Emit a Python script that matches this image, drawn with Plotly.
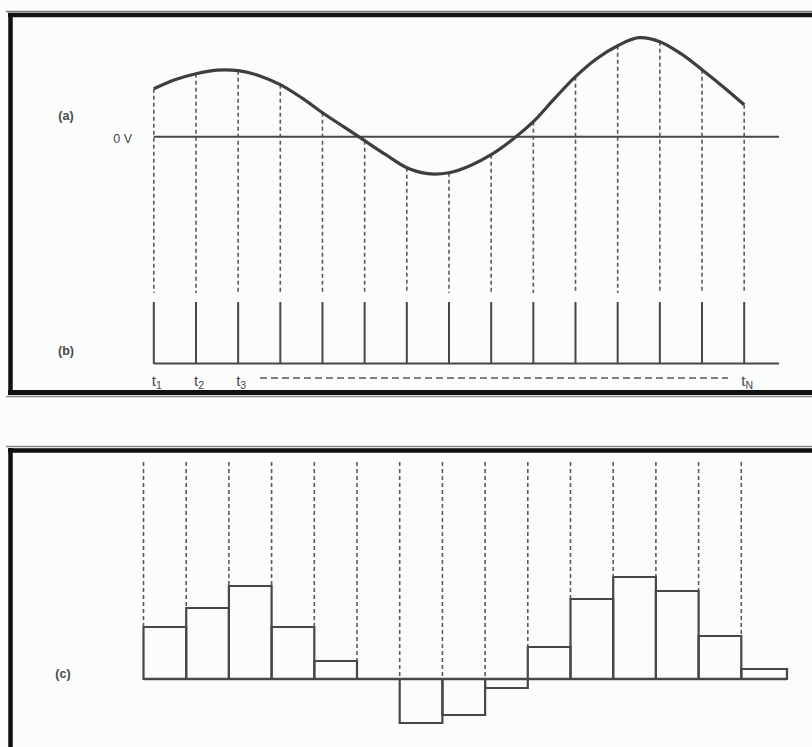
import plotly.graph_objects as go

# ---------------- data (arbitrary units, 1 unit ~ 1 px) ----------------
sample_idx = list(range(1, 16))
# continuous analogue signal (a): position in sample periods, amplitude above 0 V
curve_t = [1, 1.5, 2, 2.5, 3, 3.5, 4, 4.5, 5, 5.5, 6, 6.5, 7, 7.5, 8, 8.5, 9,
           9.5, 10, 10.5, 11, 11.5, 12, 12.5, 13, 13.5, 14, 14.5, 15]
curve_v = [48, 57, 63, 66.5, 66, 61, 52, 39, 24, 10, -4, -18, -31, -37, -36, -29, -18,
           -3, 15, 38, 60, 78, 91, 99, 95, 83, 67, 50, 32]
# sampled values at t1..tN (where the dashed lines leave the curve)
sample_v = [48, 63, 66, 52, 24, -4, -31, -36, -18, 15, 60, 91, 95, 67, 32]
# sample-and-hold staircase (c)
held_v = [52, 71, 93, 52, 18, 0, -44, -36, -9, 32, 80, 102, 88, 43, 10]
held_w = [1] * 14 + [1.07]
t_label_idx = [1, 2, 3, 15]
t_label_txt = ["t<sub>1</sub>", "t<sub>2</sub>", "t<sub>3</sub>", "t<sub>N</sub>"]
panel_labels = ["(a)", "(b)", "(c)"]
zero_label = "0 V"

# ---------------- layout geometry (pixels) ----------------
W, H = 812, 747
SPLIT = 420                      # pixel row separating the two panels
ZERO_A = 136.7                   # pixel row of 0 V in panel (a)
X1_A, DX_A = 153.8, 42.17        # pixel x of t1 and sample spacing, top panel
BASE_C = 679                     # pixel row of the baseline in panel (c)
X1_C, DX_C = 143.5, 42.7         # pixel x of first bar edge, bottom panel

def va(p):  # pixel row -> value in top axis
    return ZERO_A - p

def vc(p):  # pixel row -> value in bottom axis
    return BASE_C - p

def xa(px):  # pixel column -> top x value
    return 1 + (px - X1_A) / DX_A

def xc(px):  # pixel column -> bottom x value
    return 1 + (px - X1_C) / DX_C

INK = "#474747"
DASH = "4px,3px"

fig = go.Figure()

# ---- (a) zero line
fig.add_trace(go.Scatter(x=[1, xa(779)], y=[0, 0], mode="lines",
                         line=dict(color=INK, width=2), xaxis="x", yaxis="y", hoverinfo="skip"))
# ---- (a) dashed drop lines from the samples
dx, dy = [], []
for i, v in zip(sample_idx, sample_v):
    dx += [i, i, None]
    dy += [v, va(293), None]
fig.add_trace(go.Scatter(x=dx, y=dy, mode="lines",
                         line=dict(color="#5a5a5a", width=1.6, dash=DASH),
                         xaxis="x", yaxis="y", hoverinfo="skip"))
# ---- (a) analogue signal
fig.add_trace(go.Scatter(x=curve_t, y=curve_v, mode="lines",
                         line=dict(color="#3e3e3e", width=3.2, shape="spline", smoothing=1.0),
                         xaxis="x", yaxis="y", hoverinfo="skip"))
# ---- (b) sampling impulses
ix, iy = [], []
for i in sample_idx:
    ix += [i, i, None]
    iy += [va(302), va(364), None]
fig.add_trace(go.Scatter(x=ix, y=iy, mode="lines", line=dict(color=INK, width=2),
                         xaxis="x", yaxis="y", hoverinfo="skip"))
fig.add_trace(go.Scatter(x=[1, xa(779)], y=[va(363.5)] * 2, mode="lines",
                         line=dict(color=INK, width=2.2), xaxis="x", yaxis="y", hoverinfo="skip"))
# dashed "t3 ---- tN" line
fig.add_trace(go.Scatter(x=[xa(260), xa(728)], y=[va(378)] * 2,
                         mode="lines", line=dict(color="#555", width=1.4, dash="7px,4px"),
                         xaxis="x", yaxis="y", hoverinfo="skip"))

# ---- (c) dashed guide lines
cx, cy = [], []
for k, i in enumerate(sample_idx):
    prev = held_v[k - 1] if k > 0 else 0
    end = max(0, prev, held_v[k])
    cx += [i, i, None]
    cy += [vc(462), end, None]
fig.add_trace(go.Scatter(x=cx, y=cy, mode="lines",
                         line=dict(color="#5a5a5a", width=1.6, dash=DASH),
                         xaxis="x2", yaxis="y2", hoverinfo="skip"))
# ---- (c) held samples
fig.add_trace(go.Bar(x=sample_idx, y=held_v, width=held_w, offset=0,
                     marker=dict(color="rgba(0,0,0,0)", line=dict(color=INK, width=2.2)),
                     xaxis="x2", yaxis="y2", hoverinfo="skip"))
fig.add_trace(go.Scatter(x=[1, 16 + 0.07], y=[0, 0], mode="lines",
                         line=dict(color=INK, width=2.4), xaxis="x2", yaxis="y2", hoverinfo="skip"))

# ---------------- text (as text traces) ----------------
FONT = "Liberation Sans"
TXT = "#484848"
fig.add_trace(go.Scatter(x=[i + 3 / DX_A for i in t_label_idx], y=[va(382)] * 4,
                         mode="text", text=t_label_txt, textposition="middle center",
                         textfont=dict(family=FONT, size=15, color=TXT),
                         xaxis="x", yaxis="y", hoverinfo="skip"))
fig.add_trace(go.Scatter(x=[xa(66), xa(66)], y=[va(116.5), va(352)], mode="text",
                         text=["<b>" + s + "</b>" for s in panel_labels[:2]],
                         textposition="middle center",
                         textfont=dict(family=FONT, size=12.5, color=TXT),
                         xaxis="x", yaxis="y", hoverinfo="skip"))
fig.add_trace(go.Scatter(x=[xa(132)], y=[va(139.5)], mode="text", text=[zero_label],
                         textposition="middle left",
                         textfont=dict(family=FONT, size=12.5, color=TXT),
                         xaxis="x", yaxis="y", hoverinfo="skip"))
fig.add_trace(go.Scatter(x=[xc(63)], y=[vc(674.5)], mode="text",
                         text=["<b>" + panel_labels[2] + "</b>"], textposition="middle center",
                         textfont=dict(family=FONT, size=12.5, color=TXT),
                         xaxis="x2", yaxis="y2", hoverinfo="skip"))

# ---------------- frames ----------------
def hline(y, x0, x1, w, c):
    return dict(type="line", xref="paper", yref="paper", x0=x0 / W, x1=x1 / W,
                y0=1 - y / H, y1=1 - y / H, line=dict(color=c, width=w))

def vline(x, y0, y1, w, c):
    return dict(type="line", xref="paper", yref="paper", x0=x / W, x1=x / W,
                y0=1 - y0 / H, y1=1 - y1 / H, line=dict(color=c, width=w))

shapes = [
    hline(11.5, 6, 830, 1.5, "#777"),
    hline(15, 8, 830, 4.5, "#111"),
    hline(392.5, 8, 830, 5, "#111"),
    hline(396.5, 6, 830, 1.5, "#888"),
    vline(10.5, 13, 395, 4.5, "#111"),
    hline(446.5, 6, 830, 1.5, "#888"),
    hline(450.5, 8, 830, 4.5, "#111"),
    vline(10.5, 448, 760, 4.5, "#111"),
]

ax_common = dict(visible=False, showgrid=False, zeroline=False, fixedrange=True)
fig.update_layout(
    width=W, height=H, autosize=False,
    margin=dict(l=0, r=0, t=0, b=0, pad=0),
    paper_bgcolor="#fbfcfc", plot_bgcolor="rgba(0,0,0,0)",
    showlegend=False, barmode="overlay",
    xaxis=dict(ax_common, domain=[0, 1], anchor="y", range=[xa(0), xa(W)]),
    yaxis=dict(ax_common, domain=[1 - SPLIT / H, 1], anchor="x",
               range=[va(SPLIT), va(0)]),
    xaxis2=dict(ax_common, domain=[0, 1], anchor="y2", range=[xc(0), xc(W)]),
    yaxis2=dict(ax_common, domain=[0, 1 - SPLIT / H], anchor="x2",
                range=[vc(H), vc(SPLIT)]),
    shapes=shapes,
)

fig.write_html("out.html")
